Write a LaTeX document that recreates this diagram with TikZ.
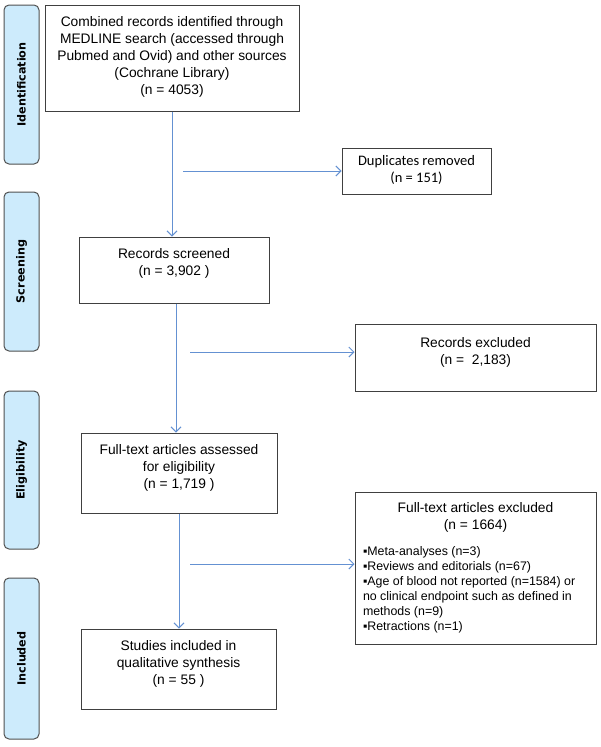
\documentclass[tikz,border=0pt]{standalone}
\usepackage{fontspec}
\setmainfont{Liberation Sans}
\newfontfamily\dupfont{Carlito}
\newfontfamily\phasefont{DejaVu Sans}
\usetikzlibrary{arrows.meta}
\definecolor{phasefill}{RGB}{205,235,252}
\definecolor{phaseline}{RGB}{80,80,80}
\definecolor{boxline}{RGB}{64,64,64}
\definecolor{arrowblue}{RGB}{100,145,210}
\newcommand\boxtext[2]{\raisebox{#1}[\height][\depth]{\begin{tabular}{@{}c@{}}#2\end{tabular}}}
\begin{document}
\begin{tikzpicture}[x=1pt,y=-1pt,
 phase/.style={draw=phaseline, line width=1pt, fill=phasefill, rounded corners=5pt, rotate=90, minimum height=35pt, font=\phasefont\bfseries\fontsize{11.2}{13}\selectfont, inner sep=0pt},
 box/.style={draw=boxline, line width=1pt, fill=white, inner sep=0pt, font=\fontsize{13.8}{17}\selectfont},
 arr/.style={draw=arrowblue, line width=1pt, -{Straight Barb[length=5pt,width=10pt]}}]
\useasboundingbox[fill=white] (0,0) rectangle (600,747);

% phase bars
\node[phase, minimum width=159pt] (p1) at (21.5,84.5) {Identification};
\node[phase, minimum width=159pt] (p2) at (21.5,271.5) {Screening};
\node[phase, minimum width=158pt] (p3) at (21.5,470) {Eligibility};
\node[phase, minimum width=161pt] (p4) at (21.5,658.5) {Included};

% boxes
\node[box, minimum width=254pt, minimum height=106pt] (id) at (172,58)
  {\boxtext{1pt}{Combined records identified through\\MEDLINE search (accessed through\\Pubmed and Ovid) and other sources\\(Cochrane Library)\\(n = 4053)}};
\node[box, minimum width=149pt, minimum height=46pt, font=\dupfont\fontsize{14.5}{17}\selectfont] (dup) at (416.5,171)
  {\boxtext{0pt}{Duplicates removed\\(n = 151)}};
\node[box, minimum width=190pt, minimum height=66pt] (scr) at (174,270)
  {\boxtext{6pt}{Records screened\\(n = 3,902 )}};
\node[box, minimum width=241pt, minimum height=67pt] (ex1) at (475.5,357.5)
  {\boxtext{5pt}{Records excluded\\(n = \ 2,183)}};
\node[box, minimum width=196pt, minimum height=80pt] (ass) at (179,473)
  {\boxtext{5pt}{Full-text articles assessed\\for eligibility\\(n = 1,719 )}};
\node[box, minimum width=241pt, minimum height=152pt] (ex2) at (475.5,568)
  {\parbox{225pt}{\centering Full-text articles excluded\\(n = 1664)\par\vspace{11pt}\raggedright\fontsize{12.4}{15}\selectfont
  ▪Meta-analyses (n=3)\\▪Reviews and editorials (n=67)\\▪Age of blood not reported (n=1584) or\\no clinical endpoint such as defined in\\methods (n=9)\\▪Retractions (n=1)\par}};
\node[box, minimum width=195pt, minimum height=80pt] (inc) at (178.5,669)
  {\boxtext{5pt}{Studies included in\\qualitative synthesis\\(n = 55 )}};

% connectors
\coordinate (d0) at (183,171);
\coordinate (e0) at (190,352);
\coordinate (e1) at (190,564);
\draw[arr] (id.south) -- (id.south |- scr.north);
\draw[arr] (d0) -- (dup.west);
\draw[arr] ([xshift=2pt]scr.south) -- ([xshift=2pt]scr.south |- ass.north);
\draw[arr] (e0) -- (e0 -| ex1.west);
\draw[arr] (ass.south) -- (ass.south |- inc.north);
\draw[arr] (e1) -- (e1 -| ex2.west);
\end{tikzpicture}
\end{document}
